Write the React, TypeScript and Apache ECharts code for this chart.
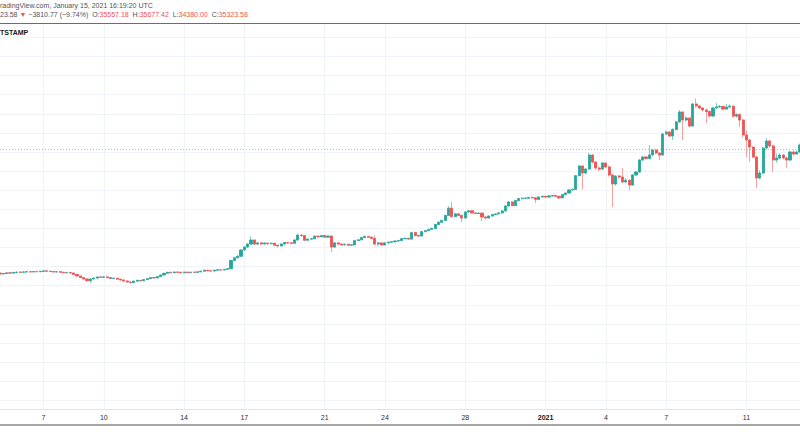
import React, { useEffect, useRef } from 'react';
import * as echarts from 'echarts';

// BTCUSD 4h candles, Dec 4 2020 20:00 UTC .. Jan 13 2021 16:00 UTC
const START_TIME = Date.UTC(2020, 11, 4, 20, 0, 0);
const STEP_MS = 4 * 3600 * 1000;
const FIRST_OPEN = 19150;

const CLOSE = [
  19030, 19100, 19180, 19150, 19230, 19280, 19260, 19300, 19330, 19310,
  19350, 19330, 19380, 19440, 19400, 19350, 19300, 19330, 19260, 19200,
  19220, 19160, 18960, 18770, 18570, 18380, 18150, 18380, 18500, 18640,
  18600, 18650, 18560, 18440, 18480, 18350, 18250, 18120, 17980, 17920,
  18100, 18200, 18150, 18300, 18420, 18560, 18520, 18700, 18900, 19120,
  19250, 19200, 19290, 19260, 19200, 19280, 19220, 19270, 19250, 19310,
  19400, 19520, 19450, 19420, 19530, 19580, 19560, 19640, 19720, 20800,
  21150, 21350, 22170, 22560, 22950, 23480, 22950, 23100, 22960, 23080,
  23000, 23050, 22800, 22700, 22950, 23150, 23100, 23050, 23480, 24130,
  24050, 23450, 23600, 23650, 23980, 23900, 24070, 23850, 24000, 22560,
  23100, 22950, 22850, 22920, 22800, 22850, 23400, 23500, 23800, 23950,
  23850, 23700, 22950, 23100, 22830, 23100, 23200, 23250, 23350, 23400,
  23650, 23700, 23600, 24450, 24060, 24000, 24570, 24700, 24860, 24990,
  25520, 25800, 26040, 26700, 27650, 26550, 26900, 26700, 26360, 27150,
  27300, 27020, 26950, 27000, 26490, 26360, 26620, 26800, 26890, 27020,
  27280, 27930, 28460, 27980, 28640, 28900, 28950, 28950, 29050, 29000,
  28800, 29110, 29200, 29100, 29250, 29300, 29200, 29000, 29430, 29630,
  30030, 30100, 31900, 33170, 32250, 32770, 34600, 33690, 32900, 32770,
  33560, 33040, 31990, 30810, 31860, 31730, 31070, 31300, 30680, 31990,
  32380, 33950, 34350, 34150, 34610, 35260, 34870, 34610, 37360, 37620,
  37090, 37950, 38930, 40240, 39190, 39450, 38400, 41280, 41020, 40760,
  40500, 40300, 39710, 40760, 40900, 40970, 40620, 40890, 41000, 39700,
  39900, 39190, 37230, 36570, 35650, 34350, 31600, 32250, 35520, 36440,
  35790, 33950, 34200, 34600, 34210, 33950, 35000, 34740, 35000, 35920,
];

const HIGH = [
  19210, 19160, 19230, 19240, 19280, 19330, 19320, 19360, 19390, 19380,
  19400, 19390, 19430, 19500, 19470, 19420, 19380, 19380, 19350, 19290,
  19280, 19250, 19200, 19000, 18800, 18620, 18420, 18450, 18580, 18700,
  18720, 18730, 18700, 18600, 18540, 18500, 18400, 18300, 18160, 18050,
  18150, 18260, 18250, 18360, 18480, 18620, 18600, 18760, 18960, 19180,
  19310, 19290, 19340, 19330, 19300, 19330, 19310, 19320, 19310, 19360,
  19450, 19580, 19560, 19490, 19580, 19630, 19640, 19690, 19780, 20900,
  21300, 21500, 22300, 22700, 23100, 23950, 23500, 23250, 23200, 23180,
  23150, 23200, 23100, 22850, 23050, 23250, 23200, 23150, 23580, 24300,
  24200, 24100, 23700, 23750, 24100, 24050, 24150, 24150, 24100, 24050,
  23250, 23150, 23000, 23020, 22980, 22950, 23500, 23600, 23900, 24050,
  24000, 23900, 24100, 23200, 23150, 23200, 23280, 23350, 23450, 23500,
  23750, 23800, 23750, 24550, 24600, 24150, 24650, 24800, 24950, 25100,
  25600, 25900, 26150, 26800, 27900, 28420, 27050, 27000, 26800, 27250,
  27400, 27350, 27100, 27150, 27050, 26600, 26700, 26900, 27000, 27100,
  27400, 28050, 28600, 28550, 28750, 29000, 29050, 29100, 29150, 29150,
  29050, 29200, 29300, 29250, 29350, 29400, 29350, 29250, 29500, 29700,
  30150, 30250, 32000, 33300, 33250, 32900, 34870, 34700, 33800, 33100,
  33700, 33600, 33200, 32100, 31950, 32000, 32900, 31600, 31450, 32100,
  32500, 34100, 34500, 34450, 35920, 35400, 35350, 34950, 37500, 37800,
  37700, 38100, 39100, 40500, 40300, 39700, 39550, 41400, 42000, 41200,
  40900, 40700, 40400, 40900, 41400, 41150, 41050, 41300, 41250, 41100,
  40100, 40050, 39300, 37800, 36700, 35700, 34500, 32600, 35700, 36800,
  36600, 35900, 34800, 34800, 34750, 34400, 35150, 35200, 35200, 36100,
];

const LOW = [
  18980, 19000, 19080, 19110, 19120, 19200, 19210, 19230, 19270, 19260,
  19290, 19280, 19300, 19350, 19360, 19300, 19260, 19270, 19210, 19150,
  19140, 19100, 18900, 18700, 18500, 18300, 18050, 17850, 18330, 18460,
  18540, 18560, 18500, 18380, 18400, 18300, 18180, 18050, 17900, 17760,
  17880, 18050, 18080, 18120, 18270, 18400, 18460, 18500, 18680, 18870,
  19080, 19150, 19170, 19200, 19150, 19170, 19180, 19190, 19200, 19220,
  19280, 19370, 19400, 19360, 19390, 19480, 19500, 19520, 19600, 19680,
  20700, 21050, 21300, 22100, 22450, 22900, 22800, 22850, 22850, 22900,
  22900, 22940, 22700, 22500, 22650, 22900, 23000, 22950, 23000, 23400,
  23900, 23350, 23400, 23500, 23600, 23800, 23850, 23750, 23800, 21910,
  22450, 22850, 22700, 22750, 22700, 22720, 22800, 23350, 23450, 23750,
  23750, 23600, 22850, 22650, 22700, 22780, 23050, 23150, 23200, 23300,
  23350, 23600, 23500, 23550, 23950, 23900, 23950, 24500, 24650, 24800,
  24950, 25450, 25750, 26000, 26650, 26400, 26450, 26600, 25840, 26300,
  27050, 26950, 26850, 26900, 25950, 26200, 26300, 26550, 26750, 26850,
  26950, 27250, 27900, 27900, 27950, 28600, 28800, 28850, 28900, 28900,
  28330, 28750, 29050, 29000, 29050, 29150, 29100, 28850, 28950, 29350,
  29600, 29900, 30050, 31800, 30150, 32100, 32700, 33500, 32700, 32500,
  32650, 32900, 31800, 27800, 30600, 31500, 30900, 30900, 30030, 30600,
  31850, 32300, 33800, 34000, 34050, 34550, 34700, 33950, 34500, 37200,
  36950, 36570, 37800, 38850, 36570, 39000, 38200, 38300, 40800, 40600,
  40300, 38800, 39500, 39600, 40650, 40800, 40500, 40500, 40700, 39500,
  39500, 38300, 36900, 34350, 33690, 34200, 30290, 31400, 32100, 35300,
  35500, 32380, 33600, 34000, 34050, 32900, 33800, 34500, 34600, 34900,
];

const TICK_INDEX = [13, 31, 55, 73, 97, 115, 139, 163, 181, 199, 223];
const TICK_LABELS = ['7', '10', '14', '17', '21', '24', '28', '2021', '4', '7', '11'];
const GRID_LEVELS = [
  2500, 5000, 7500, 10000, 12500, 15000, 17500, 20000, 22500, 25000,
  27500, 30000, 32500, 35000, 37500, 40000, 42500, 45000, 47500, 50000,
];
const LAST_PRICE = 35323.58;
const Y_MIN = 1360;
const Y_MAX = 51755;

const UP = '#26a69a';
const DOWN = '#ef5350';
const UP_WICK = '#86cdc6';
const DOWN_WICK = '#f5a3a1';
const FONT = '"Liberation Sans", Arial, sans-serif';

export default function App() {
  const ref = useRef<HTMLDivElement>(null);

  useEffect(() => {
    document.body.style.margin = '0';
    const el = ref.current;
    if (!el) return;
    const chart = echarts.init(el, undefined, { renderer: 'svg' });

    const categories = CLOSE.map((_, i) => {
      const d = new Date(START_TIME + i * STEP_MS);
      return d.toISOString().slice(0, 16).replace('T', ' ');
    });
    const opens = CLOSE.map((_, i) => (i === 0 ? FIRST_OPEN : CLOSE[i - 1]));
    const full = CLOSE.map((c, i) => [opens[i], c, LOW[i], HIGH[i]]);
    const bodies = CLOSE.map((c, i) => [opens[i], c, Math.min(opens[i], c), Math.max(opens[i], c)]);
    const isTick = (idx: number) => TICK_INDEX.indexOf(idx) >= 0;

    const option: any = {
      animation: false,
      backgroundColor: '#ffffff',
      grid: { left: 0, right: 0, top: 24, bottom: 36, containLabel: false },
      xAxis: {
        type: 'category',
        data: categories,
        boundaryGap: false,
        axisLine: { show: true, lineStyle: { color: '#e0e3eb', width: 1 } },
        axisTick: { show: false },
        axisLabel: {
          interval: (idx: number) => isTick(idx),
          hideOverlap: false,
          margin: 5,
          fontSize: 7,
          fontFamily: FONT,
          color: '#2a2e39',
          formatter: (_v: string, idx: number) => {
            const k = TICK_INDEX.indexOf(idx);
            const t = k >= 0 ? TICK_LABELS[k] : '';
            return t.length === 4 ? `{b|${t}}` : t;
          },
          rich: { b: { fontWeight: 'bold', fontSize: 7, fontFamily: FONT, color: '#131722' } },
        },
        splitLine: {
          show: true,
          interval: (idx: number) => isTick(idx),
          lineStyle: { color: '#f0f3fa', width: 1 },
        },
      },
      yAxis: {
        type: 'value',
        min: Y_MIN,
        max: Y_MAX,
        show: false,
        splitLine: { show: false },
      },
      series: [
        {
          type: 'line',
          data: CLOSE,
          symbol: 'none',
          silent: true,
          z: 0,
          lineStyle: { opacity: 0 },
          markLine: {
            silent: true,
            z: 0,
            symbol: 'none',
            label: { show: false },
            lineStyle: { color: '#f0f3fa', width: 1, type: 'solid' },
            data: GRID_LEVELS.map((v) => ({ yAxis: v })),
          },
        },
        {
          type: 'candlestick',
          data: full,
          barWidth: 2.6,
          z: 2,
          silent: true,
          itemStyle: {
            color: UP_WICK,
            color0: DOWN_WICK,
            borderColor: UP_WICK,
            borderColor0: DOWN_WICK,
            borderColorDoji: UP_WICK,
            borderWidth: 1,
          },
          markLine: {
            silent: true,
            symbol: 'none',
            label: { show: false },
            lineStyle: { color: '#ef5350', width: 1, type: [1, 2], opacity: 0.55 },
            data: [{ yAxis: LAST_PRICE }],
          },
        },
        {
          type: 'candlestick',
          data: bodies,
          barWidth: 2.6,
          z: 3,
          silent: true,
          itemStyle: {
            color: UP,
            color0: DOWN,
            borderColor: UP,
            borderColor0: DOWN,
            borderColorDoji: UP,
            borderWidth: 0.6,
          },
        },
      ],
      graphic: [
        {
          type: 'text',
          left: 0,
          top: 2,
          style: {
            text: 'radingView.com, January 15, 2021 16:19:20 UTC',
            fontSize: 7,
            fontFamily: FONT,
            fill: '#50535e',
          },
        },
        {
          type: 'text',
          left: 0,
          top: 11,
          style: {
            text:
              '{d|23.58 }{r|▼}{d| −3810.77 (−9.74%)  O:}{r|35557.18}{d|  H:}{r|35677.42}{d|  L:}{r|34380.00}{d|  C:}{r|35323.58}',
            fontSize: 7,
            fontFamily: FONT,
            rich: {
              d: { fill: '#50535e', fontSize: 7, fontFamily: FONT },
              r: { fill: DOWN, fontSize: 7, fontFamily: FONT },
            },
          },
        },
        {
          type: 'line',
          shape: { x1: 0, y1: 23.5, x2: 800, y2: 23.5 },
          style: { stroke: '#6a6d78', lineWidth: 1 },
        },
        {
          type: 'text',
          left: 0,
          top: 29,
          style: {
            text: 'TSTAMP',
            fontSize: 7,
            fontWeight: 'bold',
            fontFamily: FONT,
            fill: '#131722',
          },
        },
        {
          type: 'line',
          shape: { x1: 0, y1: 425, x2: 800, y2: 425 },
          style: { stroke: '#8a8a8a', lineWidth: 1.5 },
        },
      ],
    };

    chart.setOption(option);
    return () => {
      chart.dispose();
    };
  }, []);

  return <div ref={ref} style={{ width: 800, height: 445 }} />;
}
